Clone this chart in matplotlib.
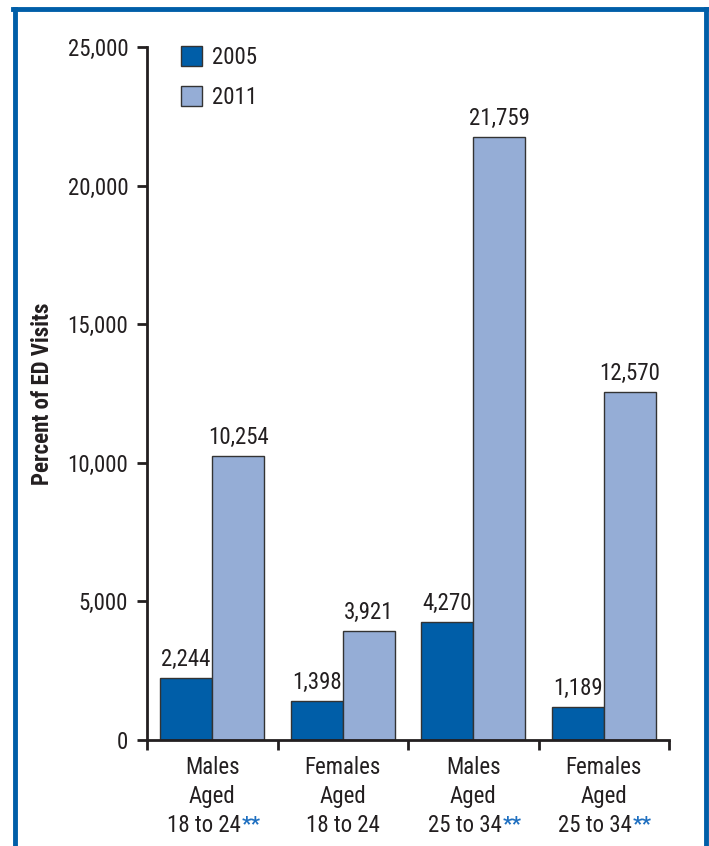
import matplotlib
matplotlib.use("Agg")
import matplotlib.pyplot as plt
from matplotlib.patches import Patch
from matplotlib.lines import Line2D
import matplotlib.transforms as mtransforms

plt.rcParams['font.family'] = ['Roboto Condensed', 'DejaVu Sans']

groups = ["Males\nAged\n18 to 24", "Females\nAged\n18 to 24", "Males\nAged\n25 to 34", "Females\nAged\n25 to 34"]
flagged = [True, False, True, True]
visits_2005 = [2244, 1398, 4270, 1189]
visits_2011 = [10254, 3921, 21759, 12570]
years = ["2005", "2011"]

dark = "#005EA8"
light = "#95ADD6"
ink = "#231F20"
fs = 16.5

fig = plt.figure(figsize=(7.09, 8.46), dpi=100)
ax = fig.add_axes([147/709, 1 - 740/846, 522/709, 693/846])

centers = [i + 0.5 for i in range(len(groups))]
w = 0.4
b1 = ax.bar([c - w/2 for c in centers], visits_2005, w, color=dark, edgecolor="#333333", linewidth=1)
b2 = ax.bar([c + w/2 for c in centers], visits_2011, w, color=light, edgecolor="#333333", linewidth=1)

for bars, vals in [(b1, visits_2005), (b2, visits_2011)]:
    for r, v in zip(bars, vals):
        ax.annotate(f"{v:,}", (r.get_x() + r.get_width()/2, v), xytext=(0, 5),
                    textcoords="offset points", ha="center", va="bottom",
                    fontsize=fs, color=ink)

ax.set_xlim(0, 4)
ax.set_ylim(0, 25000)
ax.set_yticks(range(0, 25001, 5000))
ax.set_yticklabels([f"{t:,}" for t in range(0, 25001, 5000)])
ax.set_xticks(range(0, 5))
ax.set_xticklabels([])
ax.tick_params(axis="both", length=7.5, width=2, color=ink, labelsize=fs, labelcolor=ink, pad=6)

for s in ["top", "right"]:
    ax.spines[s].set_visible(False)
for s in ["left", "bottom"]:
    ax.spines[s].set_linewidth(2)
    ax.spines[s].set_color(ink)

# category labels, three lines, blue ** on last line
trans = mtransforms.blended_transform_factory(ax.transData, ax.transAxes)
line_y = [-0.0491, -0.0909, -0.1328]
for c, g, f in zip(centers, groups, flagged):
    lines = g.split("\n")
    for ln, yy in zip(lines[:2], line_y[:2]):
        ax.text(c, yy, ln, transform=trans, ha="center", va="baseline", fontsize=fs, color=ink)
    tr = mtransforms.offset_copy(trans, fig=fig, x=-6 if f else 0, y=0, units="points")
    t = ax.text(c, line_y[2], lines[2], transform=tr, ha="center", va="baseline", fontsize=fs, color=ink)
    if f:
        ax.annotate("**", xy=(1, 1), xycoords=t, xytext=(0.5, -0.5), textcoords="offset points",
                    ha="left", va="top", fontsize=15, color="#1E6FC0", fontweight="bold")

ax.set_ylabel("Percent of ED Visits", fontsize=16.5, fontweight="bold", color=ink)
ax.yaxis.label.set_verticalalignment("center")
ax.yaxis.set_label_coords(-0.201, 0.5)

handles = [Patch(facecolor=dark, edgecolor="#333333"), Patch(facecolor=light, edgecolor="#333333")]
ax.legend(handles, years, loc="upper left", bbox_to_anchor=(0.065, 1.0 + 1/693), frameon=False,
          fontsize=fs, handlelength=0.92, handleheight=0.95, labelspacing=0.75,
          handletextpad=0.45, borderpad=0, borderaxespad=0, labelcolor=ink)

# blue frame (left, top, right)
fw = 3.5
fig.add_artist(Line2D([14.5/709, 14.5/709], [0, 1 - 9/846], color=dark, linewidth=fw, transform=fig.transFigure))
fig.add_artist(Line2D([13/709, 707/709], [1 - 9/846, 1 - 9/846], color=dark, linewidth=fw, transform=fig.transFigure))
fig.add_artist(Line2D([705.5/709, 705.5/709], [0, 1 - 9/846], color=dark, linewidth=fw, transform=fig.transFigure))

fig.savefig("out.png", dpi=100)
